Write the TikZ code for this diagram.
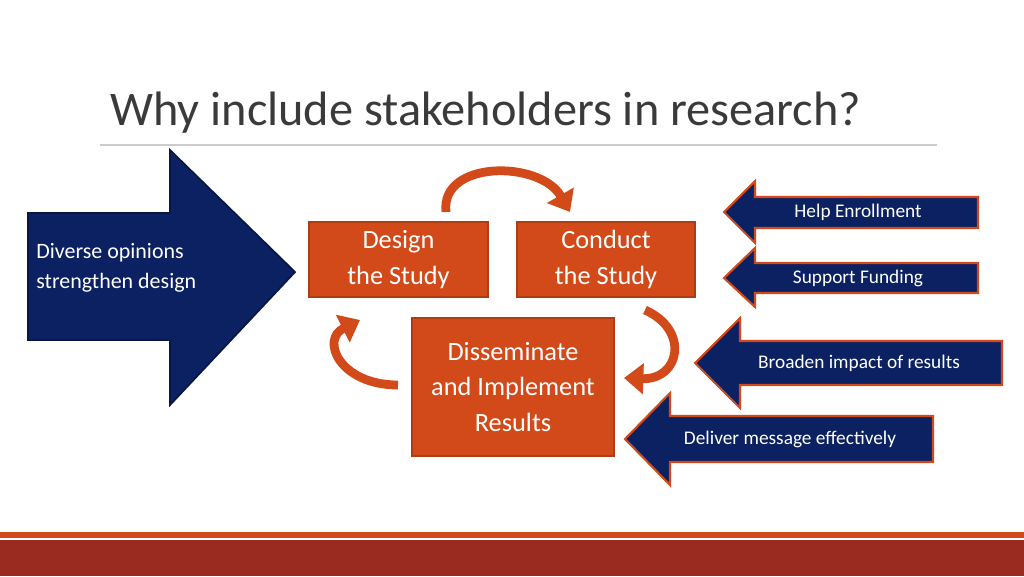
\documentclass[tikz,border=0pt]{standalone}
\usepackage{fontspec}
\setmainfont{Carlito}
\usetikzlibrary{arrows.meta}
\definecolor{navy}{HTML}{0B2161}
\definecolor{org}{HTML}{D2491A}
\definecolor{orgd}{HTML}{B03C14}
\definecolor{band}{HTML}{9A2B20}
\definecolor{title}{HTML}{3A3A3A}
\tikzset{
  box/.style={fill=org,draw=orgd,line width=1pt,text=white,font=\fontsize{15}{20}\selectfont,align=center,inner sep=0pt},
  navarrow/.style={fill=navy,draw=org,line width=1.2pt},
  lbl/.style={text=white,font=\fontsize{11}{13}\selectfont,inner sep=0pt},
  curv/.style={draw=org,line width=5pt,-{Triangle[length=11pt,width=17pt]}}
}
\begin{document}
\begin{tikzpicture}[x=0.02cm,y=-0.02cm]
\useasboundingbox (0,0) rectangle (1024,576);
% title
\node[anchor=base west,text=title,font=\fontsize{27.5}{32}\selectfont,inner sep=0pt] (t) at (110,125) {Why include stakeholders in research?};
\draw[gray!40,line width=0.7pt] (100,145) -- (937,145);
% bottom band
\fill[org] (0,532) rectangle (1024,538);
\fill[band] (0,540) rectangle (1024,576);
% big arrow
\draw[fill=navy,draw=navy!70!black,line width=1pt] (28,213) -- (170,213) -- (170,150) -- (295,272) -- (170,405) -- (170,340) -- (28,340) -- cycle;
\node[lbl,anchor=west,align=left,font=\fontsize{12.5}{17}\selectfont] (d) at (36,268) {Diverse opinions\\strengthen design};
% boxes
\node[box,minimum width=3.58cm,minimum height=1.5cm] (ds) at (398.5,259.5) {Design\\the Study};
\node[box,minimum width=3.56cm,minimum height=1.5cm] (cs) at (606,259.5) {Conduct\\the Study};
\node[box,minimum width=4.04cm,minimum height=2.76cm] (di) at (513,387) {Disseminate\\and Implement\\Results};
% curved arrows
\coordinate (c1s) at (446,212); \coordinate (c1e) at (570,212);
\draw[curv] (c1s) .. controls (440,160) and (540,160) .. (c1e);
\coordinate (c2s) at (398,385); \coordinate (c2e) at (360,320);
\draw[curv] (c2s) .. controls (340,385) and (320,340) .. (c2e);
\coordinate (c3s) at (645,310); \coordinate (c3e) at (624,378);
\draw[curv] (c3s) .. controls (690,330) and (680,380) .. (c3e);
% side arrows
\draw[navarrow] (978,197) -- (755,197) -- (755,181) -- (724,212) -- (755,243) -- (755,228) -- (978,228) -- cycle;
\node[lbl] (h) at (858,212.5) {Help Enrollment};
\draw[navarrow] (978,263) -- (755,263) -- (755,248) -- (724,278) -- (755,307) -- (755,293) -- (978,293) -- cycle;
\node[lbl] (s) at (858,278) {Support Funding};
\draw[navarrow] (1002,341) -- (740,341) -- (740,318) -- (695,363) -- (740,408) -- (740,385) -- (1002,385) -- cycle;
\node[lbl] (b) at (859,363) {Broaden impact of results};
\draw[navarrow] (933,416) -- (670,416) -- (670,393) -- (625,439) -- (670,485) -- (670,462) -- (933,462) -- cycle;
\node[lbl] (m) at (790,439) {Deliver message effectively};
\end{tikzpicture}
\end{document}
